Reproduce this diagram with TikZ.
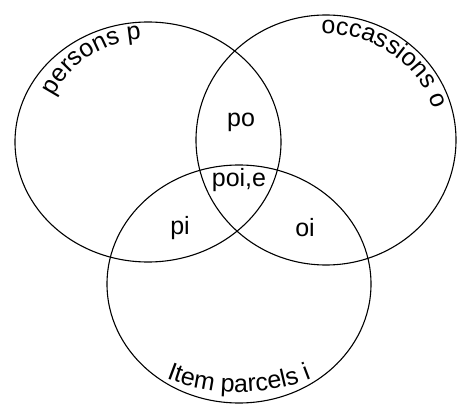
\documentclass[tikz,border=0pt]{standalone}
\usepackage{fontspec}
\setmainfont{Liberation Sans}
\usetikzlibrary{decorations.text}
\newcommand{\lblfont}{\fontsize{25}{29}\selectfont}
\begin{document}
\begin{tikzpicture}[
		x=1pt, y=1pt,
		set/.style={draw, line width=1.1pt},
		setname/.style={decorate, decoration={text along path, text align=center, text={|\lblfont|#1}}},
		part/.style={font=\lblfont, inner sep=0pt},
	]
	\path[use as bounding box] (0,0) rectangle (457,410);
	\coordinate (P) at (148,268);
	\coordinate (O) at (326,270);
	\coordinate (I) at (239,126);
	\draw[set] (P) ellipse [x radius=133pt, y radius=120pt];
	\draw[set] (O) ellipse [x radius=130pt, y radius=125pt];
	\draw[set] (I) ellipse [x radius=132pt, y radius=119pt];
	% names along the rims
	\path[setname={persons p}] (P) ++(179:105pt and 103pt) arc[start angle=179, end angle=69, x radius=105pt, y radius=103pt];
	\path[setname={occassions o}] (O) ++(119:112pt and 106pt) arc[start angle=119, end angle=-11, x radius=112pt, y radius=106pt];
	\path[setname={Item parcels i}] (I) ++(215:150pt and 108pt) arc[start angle=215, end angle=325, x radius=150pt, y radius=108pt];
	% overlaps
	\node[part] (po) at (241,288) {po};
	\node[part] (poie) at (239,230) {poi,e};
	\node[part] (pi) at (180,182) {pi};
	\node[part] (oi) at (305,182) {oi};
\end{tikzpicture}
\end{document}
